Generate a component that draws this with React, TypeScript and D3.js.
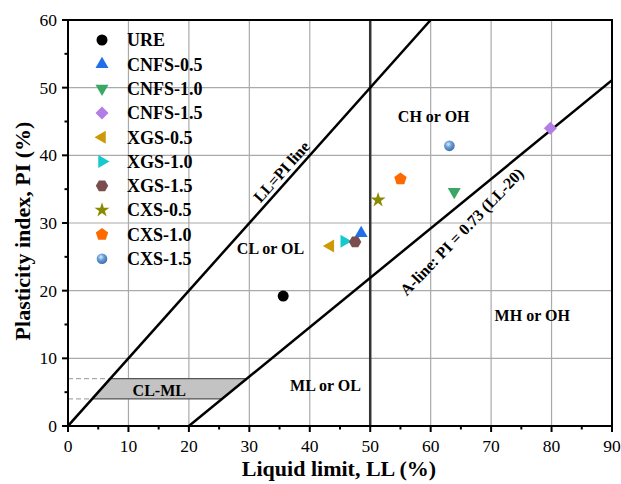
import React from "react";
import * as d3 from "d3";

const seriesNames = ["URE","CNFS-0.5","CNFS-1.0","CNFS-1.5","XGS-0.5","XGS-1.0","XGS-1.5","CXS-0.5","CXS-1.0","CXS-1.5"];
const llValues = [35.6, 48.5, 63.9, 79.8, 43.4, 45.7, 47.5, 51.3, 55.0, 63.1];
const piValues = [19.2, 28.5, 34.6, 44.0, 26.6, 27.3, 27.2, 33.4, 36.5, 41.4];
const colors = ["#000000","#1f6fe6","#3aa864","#b27ee6","#cc9a06","#16c9cf","#7a4e4e","#8a8a00","#ff6a00","#6a9fd8"];
const shapes = ["circle","triUp","triDown","diamond","triLeft","triRight","hexagon","star","pentagon","sphere"];
const xTicks = [0,10,20,30,40,50,60,70,80,90];
const yTicks = [0,10,20,30,40,50,60];

const W = 621, H = 484;
const x = d3.scaleLinear().domain([0, 90]).range([68, 612]);
const y = d3.scaleLinear().domain([0, 60]).range([426, 20]);
const font = "'Liberation Serif', 'Times New Roman', serif";

function polyPath(n: number, r: number, rot: number) {
  const pts: [number, number][] = [];
  for (let i = 0; i < n; i++) {
    const a = rot + (i * 2 * Math.PI) / n;
    pts.push([r * Math.cos(a), r * Math.sin(a)]);
  }
  return d3.line()(pts)! + "Z";
}

function Marker({ shape, color, cx, cy }: { shape: string; color: string; cx: number; cy: number }) {
  const t = `translate(${cx},${cy})`;
  switch (shape) {
    case "circle":
      return <circle cx={cx} cy={cy} r={5.5} fill={color} />;
    case "sphere":
      return <circle cx={cx} cy={cy} r={5.3} fill="url(#sphereGrad)" />;
    case "triUp":
      return <path transform={t} d={polyPath(3, 7.5, -Math.PI / 2)} fill={color} />;
    case "triDown":
      return <path transform={t} d={polyPath(3, 7.5, Math.PI / 2)} fill={color} />;
    case "triLeft":
      return <path transform={t} d={polyPath(3, 7.5, Math.PI)} fill={color} />;
    case "triRight":
      return <path transform={t} d={polyPath(3, 7.5, 0)} fill={color} />;
    case "diamond":
      return <path transform={t} d={polyPath(4, 6.5, 0)} fill={color} />;
    case "hexagon":
      return <path transform={t} d={polyPath(6, 6.2, 0)} fill={color} />;
    case "pentagon":
      return <path transform={t} d={polyPath(5, 6.5, -Math.PI / 2)} fill={color} />;
    case "star":
      return <path transform={t} d={d3.symbol(d3.symbolStar, 70)()!} fill={color} />;
  }
  return null;
}

export default function App() {
  const aLine = (ll: number) => 0.73 * (ll - 20);
  const clml = [
    [4, 4], [25.48, 4], [29.59, 7], [7, 7],
  ];
  const angLL = (Math.atan2(y(0) - y(1), x(1) - x(0)) * 180) / Math.PI;
  const minorX = d3.range(5, 90, 10);
  const minorY = d3.range(5, 60, 10);
  return (
    <svg width={W} height={H} style={{ position: "absolute", left: 0, top: 0, background: "#fff" }} fontFamily={font}>
      <defs>
        <radialGradient id="sphereGrad" cx="40%" cy="35%" r="65%">
          <stop offset="0%" stopColor="#dcecff" />
          <stop offset="45%" stopColor="#6a9fd8" />
          <stop offset="100%" stopColor="#3d6fae" />
        </radialGradient>
        <clipPath id="plotClip">
          <rect x={x(0)} y={y(60)} width={x(90) - x(0)} height={y(0) - y(60)} />
        </clipPath>
      </defs>
      {/* grid */}
      {xTicks.slice(1, -1).map((t) => (
        <line key={"gx" + t} x1={x(t)} x2={x(t)} y1={y(0)} y2={y(60)} stroke="#aaaaaa" strokeWidth={1.2} />
      ))}
      {yTicks.slice(1, -1).map((t) => (
        <line key={"gy" + t} x1={x(0)} x2={x(90)} y1={y(t)} y2={y(t)} stroke="#aaaaaa" strokeWidth={1.2} />
      ))}
      {/* LL=50 line */}
      <line x1={x(50)} x2={x(50)} y1={y(0)} y2={y(60)} stroke="#333" strokeWidth={2.5} />
      {/* dashed PI=4 and 7 */}
      <line x1={x(0)} x2={x(4)} y1={y(4)} y2={y(4)} stroke="#aaaaaa" strokeWidth={1.2} strokeDasharray="5,3" />
      <line x1={x(0)} x2={x(7)} y1={y(7)} y2={y(7)} stroke="#aaaaaa" strokeWidth={1.2} strokeDasharray="5,3" />
      {/* CL-ML */}
      <path d={d3.line()(clml.map((p) => [x(p[0]), y(p[1])] as [number, number]))! + "Z"} fill="#c3c3c3" stroke="#555" strokeWidth={1.2} />
      <text x={x(15.1)} y={y(5.2)} dy="0.35em" textAnchor="middle" fontWeight="bold" fontSize={16}>CL-ML</text>
      <g clipPath="url(#plotClip)">
        <line x1={x(0)} y1={y(0)} x2={x(60)} y2={y(60)} stroke="#000" strokeWidth={2.5} />
        <line x1={x(20)} y1={y(0)} x2={x(90)} y2={y(aLine(90))} stroke="#000" strokeWidth={2.5} />
      </g>
      {/* line labels */}
      <text transform={`translate(${x(36.0)},${y(37.05)}) rotate(${-angLL})`} textAnchor="middle" fontWeight="bold" fontSize={16}>LL=PI line</text>
      <text transform={`translate(${x(65.8)},${y(28.15)}) rotate(-46)`} textAnchor="middle" fontWeight="bold" fontSize={16}>A-line: PI = 0.73 (LL-20)</text>
      {/* region labels */}
      <text x={x(60.5)} y={y(45.8)} dy="0.35em" textAnchor="middle" fontWeight="bold" fontSize={16}>CH or OH</text>
      <text x={x(33.5)} y={y(26.2)} dy="0.35em" textAnchor="middle" fontWeight="bold" fontSize={16}>CL or OL</text>
      <text x={x(76.8)} y={y(16.3)} dy="0.35em" textAnchor="middle" fontWeight="bold" fontSize={16}>MH or OH</text>
      <text x={x(42.6)} y={y(6.06)} dy="0.35em" textAnchor="middle" fontWeight="bold" fontSize={16}>ML or OL</text>
      {/* points */}
      {seriesNames.map((s, i) => (
        <Marker key={s} shape={shapes[i]} color={colors[i]} cx={x(llValues[i])} cy={y(piValues[i])} />
      ))}
      {/* frame */}
      <rect x={x(0)} y={y(60)} width={x(90) - x(0)} height={y(0) - y(60)} fill="none" stroke="#000" strokeWidth={2} />
      {/* x ticks */}
      {xTicks.map((t) => (
        <g key={"xt" + t}>
          <line x1={x(t)} x2={x(t)} y1={y(0)} y2={y(0) + 6} stroke="#000" strokeWidth={2} />
          <text x={x(t)} y={y(0) + 26} textAnchor="middle" fontSize={17.5}>{t}</text>
        </g>
      ))}
      {minorX.map((t) => (
        <line key={"mx" + t} x1={x(t)} x2={x(t)} y1={y(0)} y2={y(0) + 3.5} stroke="#000" strokeWidth={2} />
      ))}
      {yTicks.map((t) => (
        <g key={"yt" + t}>
          <line x1={x(0) - 6} x2={x(0)} y1={y(t)} y2={y(t)} stroke="#000" strokeWidth={2} />
          <text x={x(0) - 11} y={y(t)} dy="0.35em" textAnchor="end" fontSize={17.5}>{t}</text>
        </g>
      ))}
      {minorY.map((t) => (
        <line key={"my" + t} x1={x(0) - 3.5} x2={x(0)} y1={y(t)} y2={y(t)} stroke="#000" strokeWidth={2} />
      ))}
      {/* axis titles */}
      <text x={339} y={476} textAnchor="middle" fontWeight="bold" fontSize={22}>Liquid limit, LL (%)</text>
      <text transform={`translate(30,231) rotate(-90)`} textAnchor="middle" fontWeight="bold" fontSize={22}>Plasticity index, PI (%)</text>
      {/* legend */}
      {seriesNames.map((s, i) => (
        <g key={"lg" + s}>
          <Marker shape={shapes[i]} color={colors[i]} cx={102} cy={40 + i * 24.3} />
          <text x={127} y={40 + i * 24.3} dy="0.35em" fontWeight="bold" fontSize={18}>{s}</text>
        </g>
      ))}
    </svg>
  );
}
